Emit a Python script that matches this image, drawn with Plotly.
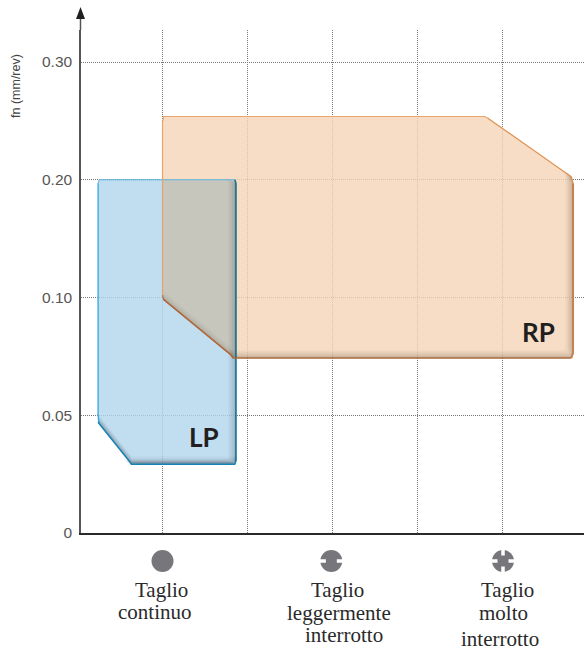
import numpy as np
import plotly.graph_objects as go

W, H = 584, 653
L, T, B = 81, 30, 533

fn_ticks = [0, 0.05, 0.10, 0.20, 0.30]
fn_labels = ["0", "0.05", "0.10", "0.20", "0.30"]
grid_x = [0, 0.5, 1, 1.5, 2]

lp_x = [-0.379, -0.379, -0.374, -0.379, -0.195, -0.183, 0.425, 0.432, 0.432, 0.425, -0.372]
lp_fn = [0.197, 0.050, 0.0467, 0.047, 0.0305, 0.0292, 0.0292, 0.0305, 0.197, 0.2, 0.2]
rp_x = [0, 0, 0.007, 1.895, 1.912, 2.405, 2.415, 2.415, 2.405, 0.415, 0.40, 0.006, 0]
rp_fn = [0.102, 0.249, 0.2537, 0.2537, 0.2525, 0.2025, 0.197, 0.0765, 0.0743, 0.0743, 0.0758, 0.0992, 0.102]
ov_x = [0, 0, 0.425, 0.432, 0.432, 0.415, 0.40, 0.006, 0]
ov_fn = [0.102, 0.2, 0.2, 0.197, 0.0743, 0.0743, 0.0758, 0.0992, 0.102]

lines = [
    (["Taglio", "continuo"], [161, 154.5], [596, 618]),
    (["Taglio", "leggermente", "interrotto"], [337, 339, 344], [596, 619, 641]),
    (["Taglio", "molto", "interrotto"], [507, 503, 500], [596, 619, 645]),
]
icon_x = [0, 0.993, 2.003]


def ypos(fn):
    return np.interp(fn, fn_ticks, range(len(fn_ticks)))


y_span = 117.75
y_top = (B - T) / y_span
x_unit = 170.0
x0_px = 162.5
x_range = [(L - x0_px) / x_unit, (W - x0_px) / x_unit]


def px(x):
    return (x - L) / (W - L)


def py(y):
    return (B - y) / (B - T)


def fill(xs, fn, color, name):
    return go.Scatter(x=xs, y=ypos(fn), mode="lines", fill="toself", fillcolor=color,
                      line=dict(width=0), hoverinfo="skip", name=name)


def edge(xs, fn, color, width):
    return go.Scatter(x=xs, y=ypos(fn), mode="lines", line=dict(color=color, width=width),
                      hoverinfo="skip", showlegend=False)


def shade(xs, fn, dx, dy, color, width=1.6):
    return go.Scatter(x=np.array(xs) + dx / x_unit, y=ypos(fn) + dy / y_span, mode="lines",
                      line=dict(color=color, width=width), hoverinfo="skip", showlegend=False)


fig = go.Figure()
fig.add_trace(fill(lp_x, lp_fn, "rgba(178,212,236,0.8)", "LP"))
fig.add_trace(fill(rp_x, rp_fn, "rgba(245,213,184,0.8)", "RP"))
fig.add_trace(fill(ov_x, ov_fn, "rgba(189,194,187,0.8)", "overlap"))

# inner bevel shading along lower and right edges
for k, a in zip([1, 2.5, 4, 5.5, 7], [0.26, 0.19, 0.13, 0.08, 0.04]):
    fig.add_trace(shade(lp_x[3:8], lp_fn[3:8], 0, k, f"rgba(60,70,80,{a})"))
    fig.add_trace(shade(lp_x[5:9], lp_fn[5:9], -k, k * 0.6, f"rgba(60,70,80,{a})"))
    fig.add_trace(shade(rp_x[5:10], rp_fn[5:10], -k, k, f"rgba(80,60,40,{a})"))
    fig.add_trace(shade(rp_x[9:12], rp_fn[9:12], 0, k, f"rgba(60,50,40,{a * 0.45})"))

# outlines
fig.add_trace(edge(lp_x[:3], lp_fn[:3], "#2fa9dc", 1.3))
fig.add_trace(edge(lp_x[-2:] + lp_x[:1], lp_fn[-2:] + lp_fn[:1], "#5bb5dd", 1))
fig.add_trace(edge(lp_x[2:8], lp_fn[2:8], "#1583b3", 1.5))
fig.add_trace(edge(lp_x[7:10], lp_fn[7:10], "#0b6f92", 1.6))
fig.add_trace(edge(rp_x[:5], rp_fn[:5], "#e9a468", 1.2))
fig.add_trace(edge(rp_x[4:7], rp_fn[4:7], "#df9150", 1.3))
fig.add_trace(edge(rp_x[6:9], rp_fn[6:9], "#c48350", 2))
fig.add_trace(edge(rp_x[8:12], rp_fn[8:12], "#a9683a", 1.4))
fig.add_trace(edge(rp_x[10:], rp_fn[10:], "#b36a3c", 1.2))

shapes = []
cy = 561
r = 11
for ix in icon_x:
    c = x0_px + ix * x_unit
    shapes.append(dict(type="circle", xref="paper", yref="paper",
                       x0=px(c - r), x1=px(c + r), y0=py(cy + r), y1=py(cy - r),
                       fillcolor="#77777b", line=dict(width=0), layer="above"))


def notch(cx, cy, w, h):
    shapes.append(dict(type="rect", xref="paper", yref="paper",
                       x0=px(cx - w / 2), x1=px(cx + w / 2), y0=py(cy + h / 2), y1=py(cy - h / 2),
                       fillcolor="white", line=dict(width=0), layer="above"))


c2 = x0_px + icon_x[1] * x_unit
c3 = x0_px + icon_x[2] * x_unit
for s in (-1, 1):
    notch(c2 + s * 9, cy, 7, 3.5)
    notch(c3 + s * 9, cy, 7, 3.5)
    notch(c3, cy + s * 9, 3.5, 7)

# axis extension and arrow head
shapes.append(dict(type="line", xref="paper", yref="paper", x0=px(L - 0.5), x1=px(L - 0.5),
                   y0=py(T), y1=py(16), line=dict(color="#555558", width=1.5)))
p = f"M {px(L - 0.5)} {py(7)} L {px(L - 5)} {py(19)} L {px(L + 4)} {py(19)} Z"
shapes.append(dict(type="path", xref="paper", yref="paper", path=p,
                   fillcolor="#231f20", line=dict(width=0)))

ann = [
    dict(text="fn (mm/rev)", x=px(16), y=py(86), textangle=-90,
         font=dict(family="Liberation Sans", size=12.5, color="#444")),
    dict(text="<b>LP</b>", x=px(204), y=py(437),
         font=dict(family="Lato", size=26, color="#231f20")),
    dict(text="<b>RP</b>", x=px(538.5), y=py(332),
         font=dict(family="Lato", size=26, color="#231f20")),
]
for words, xs, ys in lines:
    for w, xp, yb in zip(words, xs, ys):
        ann.append(dict(text=w, x=px(xp), y=py(yb - 6),
                        font=dict(family="Liberation Serif", size=21, color="#2a2a2a")))
for a in ann:
    a.update(xref="paper", yref="paper", showarrow=False, xanchor="center", yanchor="middle")

grid = dict(showgrid=True, gridcolor="#777777", griddash="1px,1px", gridwidth=1, zeroline=False)
fig.update_layout(
    width=W, height=H, autosize=False, showlegend=False,
    margin=dict(l=L, r=0, t=T, b=H - B),
    paper_bgcolor="white", plot_bgcolor="white",
    shapes=shapes, annotations=ann,
    xaxis=dict(range=x_range, tickvals=grid_x, ticks="", showticklabels=False,
               showline=True, linecolor="#2a2a2a", linewidth=1.5, fixedrange=True, **grid),
    yaxis=dict(range=[0, y_top], tickvals=list(range(len(fn_ticks))), ticktext=fn_labels,
               ticks="", ticklen=0, showline=True, linecolor="#555558", linewidth=1.5,
               ticklabelstandoff=4,
               tickfont=dict(family="Liberation Sans", size=15.5, color="#555"),
               fixedrange=True, **grid),
)
fig.write_html("out.html", config=dict(displayModeBar=False),
               post_script="document.body.style.margin='0';")
